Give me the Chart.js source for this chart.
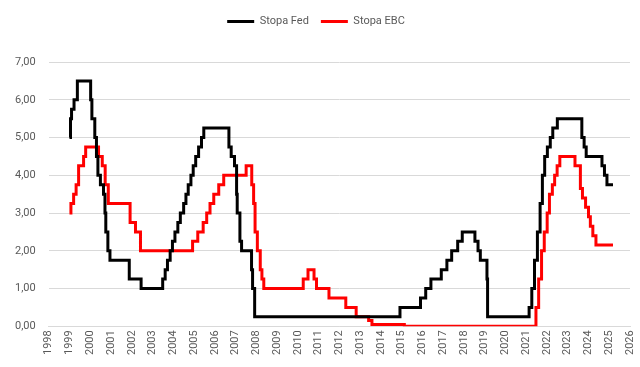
<!DOCTYPE html>
<html>
<head>
  <title>Stopa Fed i Stopa EBC</title>
  <script src="https://cdn.jsdelivr.net/npm/chart.js"></script>
  <style>
    body { margin: 0; background: #fff; }
    #wrap { width: 640px; height: 367px; }
  </style>
</head>
<body>
  <div id="wrap"><canvas id="myChart"></canvas></div>

  <script>
    // lata na osi (tak jak na obrazku)
    const yearTicks = [1998, 1999, 2000, 2001, 2002, 2003, 2004, 2005, 2006, 2007, 2008, 2009, 2010, 2011,
      2012, 2013, 2014, 2015, 2016, 2017, 2018, 2019, 2020, 2021, 2022, 2023, 2024, 2025, 2026];
    const rateTicks = [0, 1, 2, 3, 4, 5, 6, 7];

    // Stopa Fed - moment zmiany (pozycja na osi) i nowa wartosc
    const fedDates = [1999.00, 1999.05, 1999.10, 1999.22, 1999.38, 2000.02, 2000.08, 2000.22, 2000.30, 2000.37,
      2000.49, 2000.64, 2000.71, 2000.75, 2000.85, 2000.95, 2001.88, 2002.45, 2003.49, 2003.61,
      2003.72, 2003.85, 2003.96, 2004.08, 2004.22, 2004.34, 2004.50, 2004.61, 2004.72, 2004.85,
      2004.96, 2005.08, 2005.22, 2005.36, 2005.47, 2006.68, 2006.79, 2006.95, 2007.05, 2007.08,
      2007.21, 2007.29, 2007.77, 2007.82, 2007.92, 2014.92, 2015.91, 2016.16, 2016.41, 2016.91,
      2017.18, 2017.41, 2017.70, 2017.92, 2018.53, 2018.68, 2018.79, 2019.11, 2019.14, 2021.14,
      2021.27, 2021.40, 2021.54, 2021.67, 2021.78, 2021.89, 2022.02, 2022.16, 2022.28, 2022.50,
      2023.68, 2023.79, 2023.89, 2024.65, 2024.77, 2024.89, 2025.18];
    const fedRates = [5.00, 5.50, 5.75, 6.00, 6.50, 6.00, 5.50, 5.00, 4.50, 4.00,
      3.75, 3.50, 3.00, 2.50, 2.00, 1.75, 1.25, 1.00, 1.25, 1.50,
      1.75, 2.00, 2.25, 2.50, 2.75, 3.00, 3.25, 3.50, 3.75, 4.00,
      4.25, 4.50, 4.75, 5.00, 5.25, 4.75, 4.50, 4.25, 3.50, 3.00,
      2.25, 2.00, 1.50, 1.00, 0.25, 0.50, 0.75, 1.00, 1.25, 1.50,
      1.75, 2.00, 2.25, 2.50, 2.25, 2.00, 1.75, 1.25, 0.25, 0.50,
      1.00, 1.75, 2.50, 3.25, 4.00, 4.50, 4.75, 5.00, 5.25, 5.50,
      5.00, 4.75, 4.50, 4.25, 4.00, 3.75, 3.75];

    // Stopa EBC
    const ecbDates = [1999.00, 1999.07, 1999.20, 1999.32, 1999.44, 1999.68, 1999.78, 2000.40, 2000.58, 2000.72,
      2000.87, 2001.92, 2002.18, 2002.42, 2004.93, 2005.18, 2005.44, 2005.61, 2005.77, 2005.95,
      2006.19, 2006.43, 2007.51, 2007.78, 2007.87, 2007.94, 2008.05, 2008.19, 2008.27, 2008.36,
      2010.26, 2010.49, 2010.78, 2010.90, 2011.50, 2012.31, 2012.81, 2013.41, 2013.57, 2015.13,
      2021.47, 2021.60, 2021.74, 2021.87, 2022.01, 2022.12, 2022.26, 2022.37, 2022.49, 2022.62,
      2023.35, 2023.61, 2023.71, 2023.86, 2024.00, 2024.09, 2024.21, 2024.36, 2025.18];
    const ecbRates = [3.00, 3.25, 3.50, 3.75, 4.25, 4.50, 4.75, 4.50, 4.25, 3.75,
      3.25, 2.75, 2.50, 2.00, 2.25, 2.50, 2.75, 3.00, 3.25, 3.50,
      3.75, 4.00, 4.25, 3.75, 3.25, 2.50, 2.00, 1.50, 1.25, 1.00,
      1.25, 1.50, 1.25, 1.00, 0.75, 0.50, 0.25, 0.15, 0.05, 0.00,
      0.50, 1.25, 2.00, 2.50, 3.00, 3.50, 3.75, 4.00, 4.25, 4.50,
      4.25, 3.65, 3.40, 3.15, 2.90, 2.65, 2.40, 2.15, 2.15];

    const toPoints = (xs, ys) => xs.map((x, i) => ({ x: x, y: ys[i] }));
    const grey = '#595959';
    const font = { family: 'Roboto', size: 11 };

    // wiekszy odstep pod legenda
    const legendGap = {
      id: 'legendGap',
      beforeInit(chart) {
        const fit = chart.legend.fit;
        chart.legend.fit = function () {
          fit.bind(chart.legend)();
          this.height += 25;
        };
      }
    };

    const ctx = document.getElementById('myChart').getContext('2d');
    const myChart = new Chart(ctx, {
      type: 'line',
      data: {
        datasets: [{
          label: 'Stopa Fed',
          data: toPoints(fedDates, fedRates),
          borderColor: '#000000',
          backgroundColor: '#000000',
          borderWidth: 3,
          stepped: true,
          pointRadius: 0,
          pointStyle: 'line'
        }, {
          label: 'Stopa EBC',
          data: toPoints(ecbDates, ecbRates),
          borderColor: '#ff0000',
          backgroundColor: '#ff0000',
          borderWidth: 3,
          stepped: true,
          pointRadius: 0,
          pointStyle: 'line'
        }]
      },
      options: {
        responsive: true,
        maintainAspectRatio: false,
        animation: false,
        layout: { padding: { left: 2, right: 10, top: 4, bottom: 8 } },
        plugins: {
          legend: {
            position: 'top',
            labels: {
              usePointStyle: true,
              pointStyleWidth: 27,
              color: grey,
              font: { family: 'Roboto', size: 11 },
              padding: 12
            }
          },
          tooltip: { enabled: false }
        },
        scales: {
          x: {
            type: 'linear',
            min: yearTicks[0],
            max: yearTicks[yearTicks.length - 1],
            afterBuildTicks: (axis) => { axis.ticks = yearTicks.map(v => ({ value: v })); },
            afterFit: (axis) => { axis.paddingRight = 0; axis.paddingLeft = 0; },
            ticks: {
              autoSkip: false,
              maxRotation: 90,
              minRotation: 90,
              padding: 4,
              color: grey,
              font: font,
              callback: (v) => String(v)
            },
            grid: { display: false, drawTicks: false },
            border: { display: true, color: '#d9d9d9', width: 1 }
          },
          y: {
            min: rateTicks[0],
            max: rateTicks[rateTicks.length - 1],
            afterBuildTicks: (axis) => { axis.ticks = rateTicks.map(v => ({ value: v })); },
            ticks: {
              padding: 13,
              color: grey,
              font: font,
              callback: (v) => v.toFixed(2).replace('.', ',')
            },
            grid: { color: '#d9d9d9', drawTicks: false },
            border: { display: false }
          }
        }
      },
      plugins: [legendGap]
    });
  </script>
</body>
</html>
